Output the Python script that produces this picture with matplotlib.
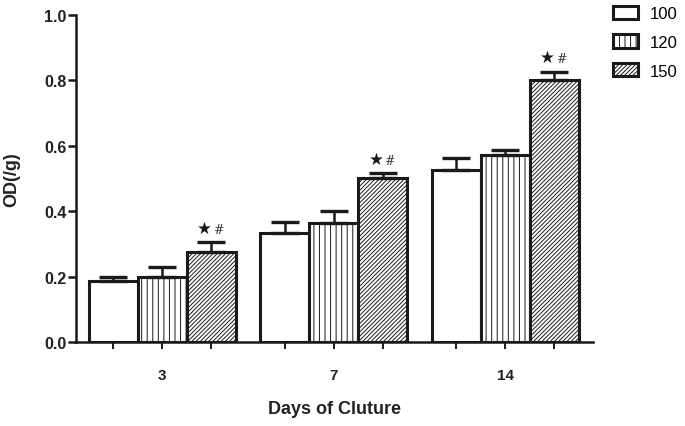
import matplotlib
matplotlib.use("Agg")
import matplotlib.pyplot as plt
import numpy as np

plt.rcParams['font.family'] = ['Liberation Sans', 'DejaVu Sans']
plt.rcParams['hatch.linewidth'] = 0.7

# data
days = ['3', '7', '14']
series = ['100', '120', '150']
means = {
    '100': [0.187, 0.332, 0.527],
    '120': [0.199, 0.363, 0.572],
    '150': [0.274, 0.502, 0.800],
}
errs = {
    '100': [0.012, 0.035, 0.037],
    '120': [0.029, 0.038, 0.016],
    '150': [0.031, 0.014, 0.027],
}
hatches = {'100': '', '120': '|||', '150': '////////'}

LINE = '#1a1a1a'
TXT = '#222222'

fig = plt.figure(figsize=(6.85, 4.27), dpi=100)
ax = fig.add_axes([0.111, 0.197, 0.755, 0.7655])

group_x = np.arange(len(days)) * 3.5
tick_pos = []
for i, s in enumerate(series):
    xs = group_x + (i - 1)
    tick_pos.extend(xs)
    ax.bar(xs, means[s], width=1.0, color='white', edgecolor=LINE,
           linewidth=2.2, hatch=hatches[s], label=s, zorder=2)
    ax.errorbar(xs, means[s], yerr=[np.zeros(3), errs[s]], fmt='none',
                ecolor=LINE, elinewidth=1.8, capsize=10, capthick=2.4, zorder=3)

# significance marks over the 150 bars
xs = group_x + 1
for x, m, e in zip(xs, means['150'], errs['150']):
    y = m + e + 0.016
    ax.text(x + 0.02, y, '\u2605', ha='right', va='bottom', fontsize=12,
            family='DejaVu Sans', color=LINE)
    ax.text(x + 0.04, y + 0.004, '#', ha='left', va='bottom', fontsize=9,
            family='DejaVu Serif', color='#333333')

ax.set_xlim(-1.755, 8.8)
ax.set_ylim(0, 1.0)
ax.set_yticks([0, 0.2, 0.4, 0.6, 0.8, 1.0])
ax.set_yticklabels(['0.0', '0.2', '0.4', '0.6', '0.8', '1.0'])
tick_pos = sorted(tick_pos)
ax.set_xticks(tick_pos)
labels = []
for p in tick_pos:
    if np.any(np.isclose(p, group_x)):
        labels.append(days[int(np.argmin(np.abs(group_x - p)))])
    else:
        labels.append('')
ax.set_xticklabels(labels)

for s in ['top', 'right']:
    ax.spines[s].set_visible(False)
for s in ['left', 'bottom']:
    ax.spines[s].set_linewidth(1.8)
    ax.spines[s].set_color(LINE)

ax.tick_params(axis='y', length=6, width=1.8, color=LINE, labelsize=11.5, pad=1)
ax.tick_params(axis='x', length=5, width=1.4, color=LINE, labelsize=11, pad=14)
for t in ax.get_xticklabels() + ax.get_yticklabels():
    t.set_fontweight('bold')
    t.set_color(TXT)

ax.set_ylabel('OD(/g)', fontsize=13, fontweight='bold', color=TXT, labelpad=17)
ax.set_xlabel('Days of Cluture', fontsize=13, fontweight='bold', color=TXT, labelpad=13)

ax.legend(loc='upper left', bbox_to_anchor=(0.885, 1.0), bbox_transform=fig.transFigure,
          frameon=False, fontsize=12, handlelength=1.5, handleheight=0.85,
          labelspacing=0.8, handletextpad=0.7, borderaxespad=0)

fig.savefig('out.png', dpi=100)
